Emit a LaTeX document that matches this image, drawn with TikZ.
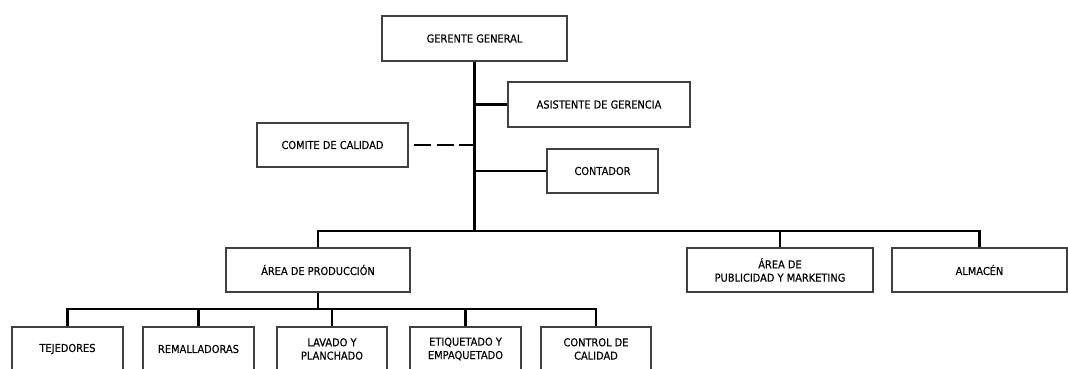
\documentclass[tikz,border=0pt]{standalone}
\usepackage{fontspec}
\setmainfont{DejaVu Sans}[FakeStretch=0.9, FakeBold=0.4]
\usetikzlibrary{positioning, calc}

\begin{document}
\begin{tikzpicture}[
    x=0.75pt, y=-0.75pt,
    orgbox/.style={draw=black!75, line width=0.9pt, minimum height=33pt, inner sep=1pt,
                   align=center, font=\fontsize{8.2}{10}\selectfont, text=black},
    link/.style={line width=1.6pt}
]
\useasboundingbox (0,0) rectangle (1068,368);
\clip (0,0) rectangle (1068,368);

% Top level
\node[orgbox, minimum width=138.75pt, minimum height=33.75pt] (gerente) at (474.5,38.5) {GERENTE GENERAL};
\node[orgbox, minimum width=136.5pt, minimum height=33.75pt] (asistente) at (599,104.5) {ASISTENTE DE GERENCIA};
\node[orgbox, minimum width=113.25pt] (comite) at (332.5,145) {COMITE DE CALIDAD};
\node[orgbox, minimum width=83.25pt] (contador) at (602.5,171) {CONTADOR};

% Areas
\node[orgbox, minimum width=138pt] (produccion) at (318,270) {ÁREA DE PRODUCCIÓN};
\node[orgbox, minimum width=139.5pt] (publicidad) at (780,270) {ÁREA DE\\PUBLICIDAD Y MARKETING};
\node[orgbox, minimum width=131.25pt] (almacen) at (979.5,270) {ALMACÉN};

% Production units
\node[orgbox, minimum width=83.25pt] (tejedores) at (67.5,349) {TEJEDORES};
\node[orgbox, minimum width=83.25pt] (remalladoras) at (198.5,349) {REMALLADORAS};
\node[orgbox, minimum width=82.5pt] (lavado) at (332,349) {LAVADO Y\\PLANCHADO};
\node[orgbox, minimum width=83.25pt] (etiquetado) at (465.5,349) {ETIQUETADO Y\\EMPAQUETADO};
\node[orgbox, minimum width=82.5pt] (control) at (596,349) {CONTROL DE\\CALIDAD};

% Trunk and staff branches
\coordinate (bar1) at (gerente.south |- 0,231);
\draw[link] (gerente.south) -- (bar1);
\draw[link] (asistente.west) -- (asistente.west -| gerente.south);
\draw[link] (contador.west) -- (contador.west -| gerente.south);
\draw[link, dash pattern=on 13pt off 4pt, shorten <=4pt] (comite.east) -- (comite.east -| gerente.south);

% Areas bar
\draw[link] (produccion.north) |- (bar1) -| (almacen.north);
\draw[link] (publicidad.north) -- (publicidad.north |- bar1);

% Production bar
\coordinate (bar2) at (produccion.south |- 0,309);
\draw[link] (produccion.south) -- (bar2);
\draw[link] (tejedores.north) |- (bar2) -| (control.north);
\foreach \n in {remalladoras, lavado, etiquetado}
    \draw[link] (\n.north) -- (\n.north |- bar2);
\end{tikzpicture}
\end{document}
